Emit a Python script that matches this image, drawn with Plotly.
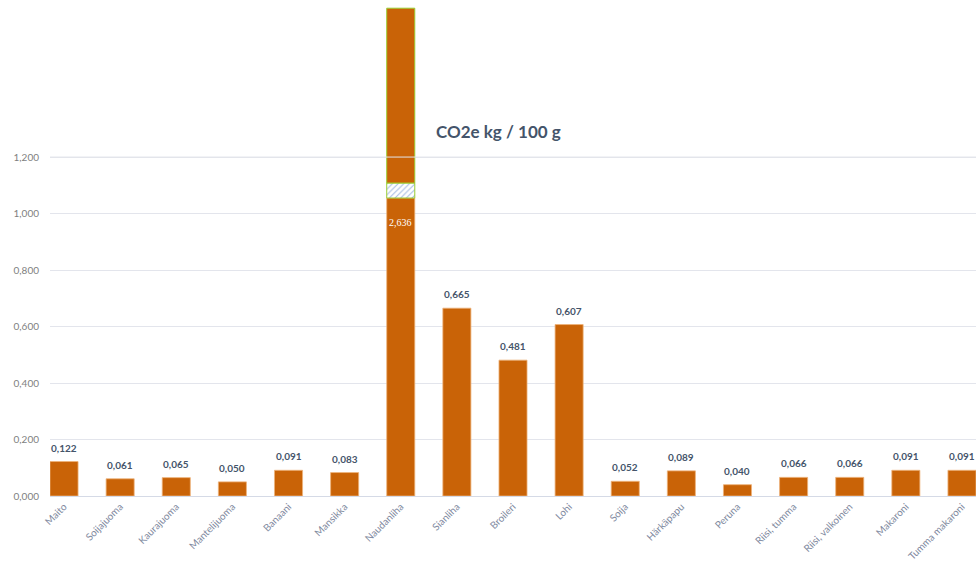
import plotly.graph_objects as go

categories = ["Maito", "Soijajuoma", "Kaurajuoma", "Mantelijuoma", "Banaani", "Mansikka",
              "Naudanliha", "Sianliha", "Broileri", "Lohi", "Soija", "Härkäpapu", "Peruna",
              "Riisi, tumma", "Riisi, valkoinen", "Makaroni", "Tumma makaroni"]
values = [0.122, 0.061, 0.065, 0.050, 0.091, 0.083, 2.636, 0.665, 0.481, 0.607,
          0.052, 0.089, 0.040, 0.066, 0.066, 0.091, 0.091]
tick_vals = [0.0, 0.2, 0.4, 0.6, 0.8, 1.0, 1.2]
tick_text = ["0,000", "0,200", "0,400", "0,600", "0,800", "1,000", "1,200"]

# broken-axis display for values beyond the visible range
break_lo, break_hi, cap = 1.055, 1.108, 1.727
y_max = 1.756

def fmt(v):
    return f"{v:.3f}".replace(".", ",")

ORANGE = "#c96307"
GREEN = "#9acd32"
LABEL = "#44546a"
BW = 0.5

shown = [v if v <= break_lo else break_lo for v in values]
big = [i for i, v in enumerate(values) if v > break_lo]

fig = go.Figure()
fig.add_trace(go.Bar(x=categories, y=shown, marker=dict(color=ORANGE, line=dict(color="#eeb27a", width=0.8)),
                     width=BW, hoverinfo="skip"))
for i in big:
    fig.add_trace(go.Bar(x=[categories[i]], y=[break_hi - break_lo], base=[break_lo], width=BW,
                         marker=dict(color="white", line=dict(color=GREEN, width=1),
                                     pattern=dict(shape="/", fgcolor="#4472c4", bgcolor="white", size=4, solidity=0.25))))
    fig.add_trace(go.Bar(x=[categories[i]], y=[cap - break_hi], base=[break_hi], width=BW,
                         marker=dict(color=ORANGE, line=dict(color=GREEN, width=1))))

annotations = []
for i, (c, v) in enumerate(zip(categories, values)):
    if v > break_lo:
        annotations.append(dict(x=c, y=0.97, text=fmt(v), showarrow=False,
                                font=dict(family="Liberation Serif", size=10, color="white")))
    else:
        annotations.append(dict(x=c, y=v, text=f"<b>{fmt(v)}</b>", showarrow=False, yshift=14,
                                font=dict(family="Lato", size=10, color=LABEL)))
annotations.append(dict(xref="paper", yref="paper", x=0.484, y=0.760, text="<b>CO2e kg / 100 g</b>",
                        showarrow=False, font=dict(family="Lato", size=17, color=LABEL)))

fig.update_layout(
    width=976, height=567,
    margin=dict(l=50, r=0, t=0, b=71),
    barmode="overlay",
    showlegend=False,
    plot_bgcolor="white", paper_bgcolor="white",
    font=dict(family="Lato"),
    annotations=annotations,
    shapes=[dict(type="line", xref="paper", yref="y", x0=0, x1=1, y0=1.2, y1=1.2,
                 line=dict(color="#e3e5ec", width=1), layer="above")],
    xaxis=dict(range=[-0.25, 16.25], tickangle=-45, showgrid=False, showline=True,
               linecolor="#d5dae6", linewidth=1, ticks="",
               tickfont=dict(family="Lato", size=10, color="#7f8aa0")),
    yaxis=dict(range=[0, y_max], tickvals=tick_vals, ticktext=tick_text, showgrid=True,
               gridcolor="#e3e5ec", zeroline=False, showline=False, ticks="", ticklabelstandoff=10,
               tickfont=dict(family="Lato", size=10, color="#7f7f7f")),
)

fig.write_html("out.html")
